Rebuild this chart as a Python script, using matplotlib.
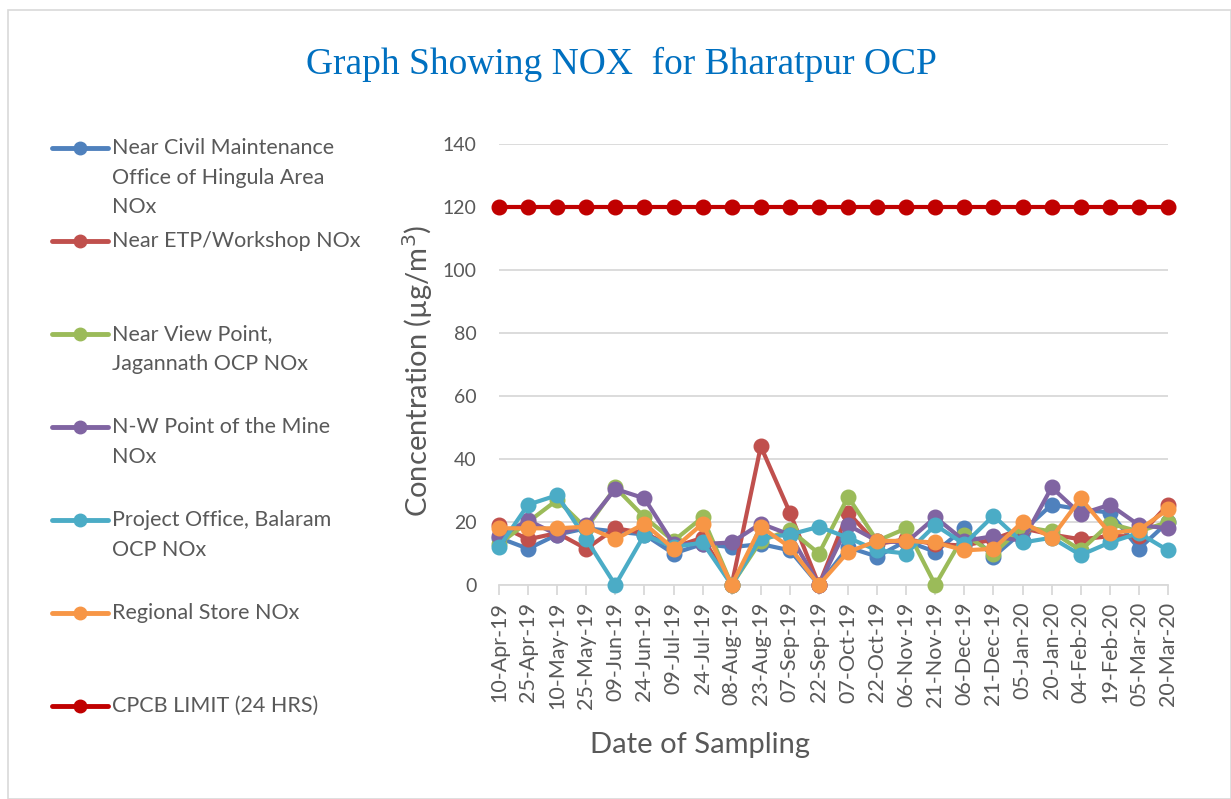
import matplotlib
matplotlib.use("Agg")
import matplotlib.pyplot as plt
from matplotlib.lines import Line2D
from matplotlib.patches import Rectangle

dates = ["10-Apr-19", "25-Apr-19", "10-May-19", "25-May-19", "09-Jun-19", "24-Jun-19",
         "09-Jul-19", "24-Jul-19", "08-Aug-19", "23-Aug-19", "07-Sep-19", "22-Sep-19",
         "07-Oct-19", "22-Oct-19", "06-Nov-19", "21-Nov-19", "06-Dec-19", "21-Dec-19",
         "05-Jan-20", "20-Jan-20", "04-Feb-20", "19-Feb-20", "05-Mar-20", "20-Mar-20"]

civil = [15, 11.5, 16, 18, 17, 16, 10, 13, 12, 13, 11, 0, 12, 9, 14, 10.5, 18, 9, 17, 25.5, 24, 23, 11.5, 20]
etp = [19, 14.5, 16.5, 11.5, 18, 16.5, 12, 15, 0, 44, 23, 0, 23, 13, 14.5, 13, 12.5, 14.5, 18, 16, 14.5, 15.5, 15.5, 25.5]
viewpoint = [13, 20, 27, 18, 31, 21.5, 14, 21.5, 0, 14, 17.5, 10, 28, 14, 18, 0, 16, 10, 18.5, 17, 11, 19.5, 17, 20]
nw_point = [15.5, 20.5, 16, 19, 30.5, 27.5, 13, 13, 13.5, 19.5, 16, 0, 19, 14, 13.5, 21.5, 14, 15.5, 14, 31, 22.5, 25.5, 19, 18]
project = [12, 25.5, 28.5, 14.5, 0, 16, 12, 13.5, 0, 15, 16, 18.5, 15, 11, 10, 19, 13, 22, 13.5, 15, 9.5, 13.5, 16.5, 11]
regional = [18, 18, 18, 18.5, 14.5, 19.5, 11.5, 19.5, 0, 18.5, 12, 0, 10.5, 14, 14, 13.5, 11, 11.5, 20, 15, 27.5, 16.5, 17.5, 24]
limit = [120] * len(dates)

series_names = ["Near Civil Maintenance\nOffice of Hingula Area\nNOx",
                "Near ETP/Workshop NOx",
                "Near View Point,\nJagannath OCP NOx",
                "N-W Point of the Mine\nNOx",
                "Project Office, Balaram\nOCP NOx",
                "Regional Store NOx",
                "CPCB LIMIT (24 HRS)"]
series_values = [civil, etp, viewpoint, nw_point, project, regional, limit]
colors = ["#4F81BD", "#C0504D", "#9BBB59", "#8064A2", "#4BACC6", "#F79646", "#C00000"]

W, H = 1231, 799
fig = plt.figure(figsize=(W / 100, H / 100), dpi=100)
fig.patches.append(Rectangle((8 / W, 0), (W - 8) / W, (H - 10) / H, transform=fig.transFigure,
                             fill=False, edgecolor="#D9D9D9", linewidth=1.2))

ax = fig.add_axes([499 / W, 1 - 585 / H, (1168 - 499) / W, (585 - 144) / H])
x = list(range(len(dates)))
for vals, c in zip(series_values, colors):
    ax.plot(x, vals, color=c, linewidth=3, marker="o", markersize=10.5, clip_on=False, zorder=3)

ax.set_xlim(0, len(dates) - 1)
ax.set_ylim(0, 140)
ax.set_yticks(range(0, 141, 20))
ax.set_xticks(x)
ax.set_xticklabels(dates, rotation=90, fontsize=15.5, color="#595959", family="Lato")
for lab in ax.get_yticklabels():
    lab.set_fontsize(14)
    lab.set_color("#595959")
    lab.set_family("Lato")
ax.grid(axis="y", color="#D9D9D9", linewidth=1.3)
ax.set_axisbelow(True)
for s in ["top", "right", "left"]:
    ax.spines[s].set_visible(False)
ax.spines["bottom"].set_color("#D9D9D9")
ax.spines["bottom"].set_linewidth(1.3)
ax.tick_params(axis="y", length=0, pad=16)
ax.tick_params(axis="x", length=7, color="#D9D9D9", width=1.3, pad=5)

ax.set_ylabel("Concentration (µg/m$^3$)", fontsize=21, color="#595959", family="Lato")
ax.yaxis.set_label_coords((418 - 499) / (1168 - 499), (585 - 371) / (585 - 144))
ax.set_xlabel("Date of Sampling", fontsize=21, color="#595959", family="Lato")
ax.xaxis.set_label_coords((700 - 499) / (1168 - 499), -(745 - 585) / (585 - 144))
ax.xaxis.label.set_va("center")
ax.yaxis.label.set_va("center")

fig.text(621 / W, 1 - 64 / H, "Graph Showing NOX  for Bharatpur OCP", ha="center", va="center",
         fontsize=27, color="#0070C0", family="Liberation Serif")

# legend
for i, (name, c) in enumerate(zip(series_names, colors)):
    yc = 1 - (148 + 93 * i) / H
    fig.add_artist(Line2D([52 / W, 108 / W], [yc, yc], transform=fig.transFigure,
                          color=c, linewidth=3.5, solid_capstyle="round"))
    fig.add_artist(Line2D([80 / W], [yc], transform=fig.transFigure, color=c,
                          marker="o", markersize=9))
    fig.text(112 / W, yc + 10 / H, name, ha="left", va="top", fontsize=15.5,
             color="#595959", family="Lato", linespacing=1.6)

fig.savefig("out.png", dpi=100)
